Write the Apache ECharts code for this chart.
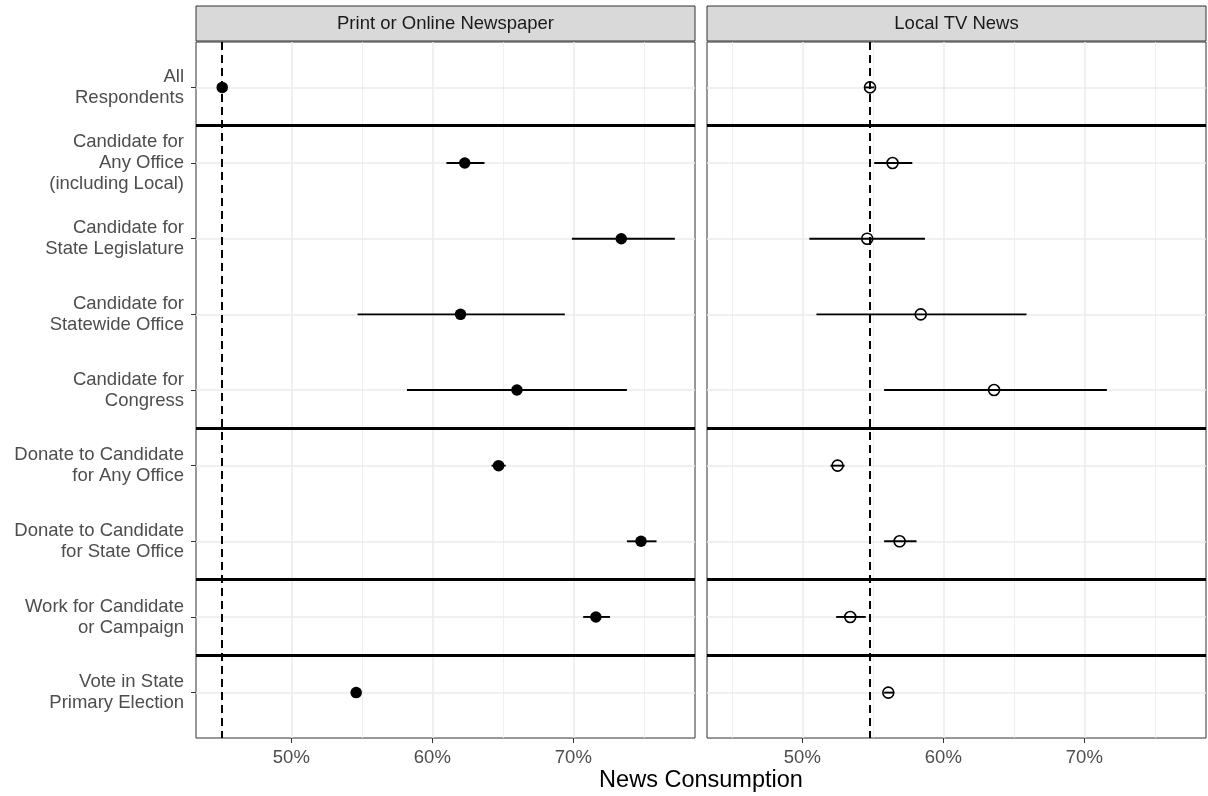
<!DOCTYPE html>
<html>
<head>
<meta charset="utf-8">
<script src="https://cdn.jsdelivr.net/npm/echarts@6/dist/echarts.min.js"></script>
<style>
html,body{margin:0;padding:0;background:#fff;}
#chart{width:1208px;height:796px;}
</style>
</head>
<body>
<div id="chart"></div>
<script>
// ---- data ----
const categories = [
  "All\nRespondents",
  "Candidate for\nAny Office\n(including Local)",
  "Candidate for\nState Legislature",
  "Candidate for\nStatewide Office",
  "Candidate for\nCongress",
  "Donate to Candidate\nfor Any Office",
  "Donate to Candidate\nfor State Office",
  "Work for Candidate\nor Campaign",
  "Vote in State\nPrimary Election"
];
const panelTitles = ["Print or Online Newspaper", "Local TV News"];
const newspaperEst = [45.1, 62.3, 73.4, 62.0, 66.0, 64.7, 74.8, 71.6, 54.6];
const newspaperLo  = [45.0, 61.0, 69.9, 54.7, 58.2, 64.2, 73.8, 70.7, 54.3];
const newspaperHi  = [45.2, 63.7, 77.2, 69.4, 73.8, 65.2, 75.9, 72.6, 54.9];
const tvEst = [54.8, 56.4, 54.6, 58.4, 63.6, 52.5, 56.9, 53.4, 56.1];
const tvLo  = [54.45, 55.1, 50.5, 51.0, 55.8, 52.0, 55.8, 52.4, 55.8];
const tvHi  = [55.1, 57.8, 58.7, 65.9, 71.6, 53.0, 58.1, 54.5, 56.5];
const refValues = [45.1, 54.8];
const separators = [1.5, 5.5, 7.5, 8.5];
const xTickValues = [50, 60, 70];
const xMinorValues = [45, 55, 65, 75];
const xTickLabels = ["50%", "60%", "70%"];

// ---- layout ----
const FONT = '"Liberation Sans", Arial, sans-serif';
const grids = [
  {left: 196, top: 42, width: 499, height: 696},
  {left: 707, top: 42, width: 499, height: 696}
];
const X_MIN = 43.24, X_MAX = 78.63;
const yVals = categories.map((c, i) => i + 1);

const panels = [
  {est: newspaperEst, lo: newspaperLo, hi: newspaperHi, filled: true},
  {est: tvEst, lo: tvLo, hi: tvHi, filled: false}
];

const xAxes = [], yAxes = [], series = [], graphics = [];
panels.forEach((p, g) => {
  xAxes.push({
    type: 'value', gridIndex: g, min: X_MIN, max: X_MAX,
    axisLine: {show: false},
    splitLine: {show: false},
    axisTick: {show: true, length: 5, lineStyle: {color: '#333', width: 1}, customValues: xTickValues},
    axisLabel: {
      show: true, customValues: xTickValues, margin: 10,
      color: '#4d4d4d', fontSize: 18.5, fontFamily: FONT,
      formatter: v => xTickLabels[xTickValues.indexOf(Math.round(v))] || ''
    }
  });
  yAxes.push({
    type: 'value', gridIndex: g, min: 0.4, max: 9.6, inverse: true,
    axisLine: {show: false},
    splitLine: {show: false},
    axisTick: {show: g === 0, length: 5, lineStyle: {color: '#333', width: 1}, customValues: yVals},
    axisLabel: {
      show: g === 0, customValues: yVals, margin: 12,
      color: '#4d4d4d', fontSize: 18.5, fontFamily: FONT, lineHeight: 21, align: 'right',
      formatter: v => categories[Math.round(v) - 1] || ''
    }
  });
  // grid lines
  const gl = [];
  xMinorValues.forEach(v => gl.push({xAxis: v, lineStyle: {color: '#ebebeb', width: 0.8, type: 'solid'}}));
  xTickValues.forEach(v => gl.push({xAxis: v, lineStyle: {color: '#ebebeb', width: 1.5, type: 'solid'}}));
  yVals.forEach(v => gl.push({yAxis: v, lineStyle: {color: '#ebebeb', width: 1.5, type: 'solid'}}));
  series.push({
    type: 'line', xAxisIndex: g, yAxisIndex: g, data: [], z: 1, silent: true,
    markLine: {silent: true, symbol: 'none', label: {show: false}, animation: false, data: gl}
  });
  // separators
  series.push({
    type: 'line', xAxisIndex: g, yAxisIndex: g, data: [], z: 3, silent: true,
    markLine: {silent: true, symbol: 'none', label: {show: false}, animation: false,
      data: separators.map(v => ({yAxis: v, lineStyle: {color: '#000', width: 3, type: 'solid'}}))}
  });
  // reference dashed line
  series.push({
    type: 'line', xAxisIndex: g, yAxisIndex: g, data: [], z: 4, silent: true,
    markLine: {silent: true, symbol: 'none', label: {show: false}, animation: false,
      data: [{xAxis: refValues[g], lineStyle: {color: '#000', width: 2, type: [8, 5]}}]}
  });
  // error bars
  series.push({
    type: 'custom', xAxisIndex: g, yAxisIndex: g, z: 5, silent: true,
    encode: {x: [1, 2], y: 0},
    data: yVals.map((y, i) => [y, p.lo[i], p.hi[i]]),
    renderItem: (params, api) => {
      const y = api.value(0);
      const a = api.coord([api.value(1), y]);
      const b = api.coord([api.value(2), y]);
      return {type: 'line', shape: {x1: a[0], y1: a[1], x2: b[0], y2: b[1]},
        style: {stroke: '#000', lineWidth: 1.9}};
    },
    animation: false
  });
  // points
  series.push({
    type: 'scatter', xAxisIndex: g, yAxisIndex: g, z: 6, silent: true,
    symbol: 'circle', symbolSize: p.filled ? 11.5 : 11,
    itemStyle: p.filled ? {color: '#000', opacity: 1} : {color: 'rgba(0,0,0,0)', borderColor: '#000', borderWidth: 1.6, opacity: 1},
    data: yVals.map((y, i) => [p.est[i], y]),
    animation: false
  });
  // strip
  const gr = grids[g];
  graphics.push({
    type: 'rect', shape: {x: gr.left, y: 6, width: gr.width, height: 35},
    style: {fill: '#d9d9d9', stroke: '#333', lineWidth: 1}, silent: true
  });
  graphics.push({
    type: 'text', x: gr.left + gr.width / 2, y: 24,
    style: {text: panelTitles[g], font: '18.5px ' + FONT, fill: '#1a1a1a',
      textAlign: 'center', textVerticalAlign: 'middle', align: 'center', verticalAlign: 'middle'},
    silent: true
  });
});
graphics.push({
  type: 'text', x: 701, y: 781,
  style: {text: 'News Consumption', font: '23.5px ' + FONT, fill: '#000',
    textAlign: 'center', textVerticalAlign: 'middle', align: 'center', verticalAlign: 'middle'},
  silent: true
});

const chart = echarts.init(document.getElementById('chart'), null, {renderer: 'canvas'});
chart.setOption({
  animation: false,
  backgroundColor: '#fff',
  grid: grids.map(g => Object.assign({show: true, borderColor: '#333', borderWidth: 1, backgroundColor: '#fff', containLabel: false}, g)),
  xAxis: xAxes,
  yAxis: yAxes,
  series: series,
  graphic: graphics
});
</script>
</body>
</html>
